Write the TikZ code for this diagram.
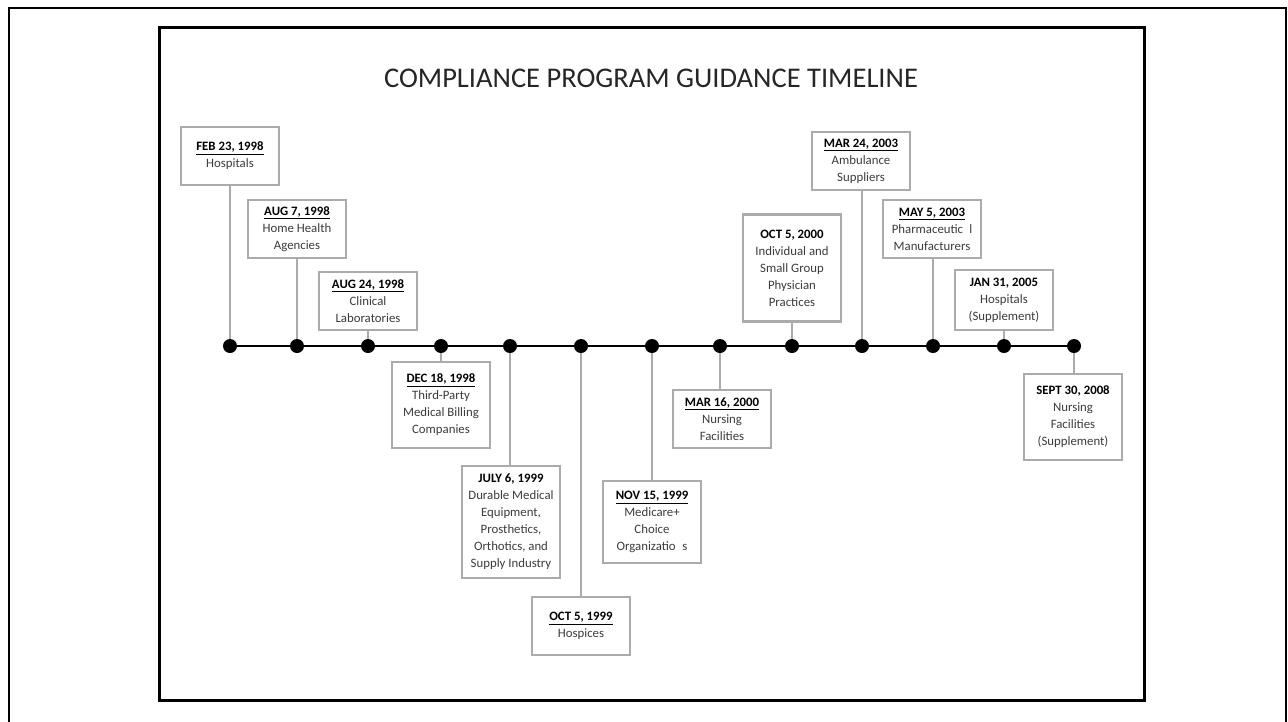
\documentclass[tikz,border=0pt]{standalone}
\usepackage{fontspec}
\setmainfont{Carlito}
\usepackage{tikz}
\usetikzlibrary{positioning,calc}
\definecolor{boxgray}{HTML}{ABABAB}
\definecolor{txtgray}{HTML}{3C3C3C}
\tikzstyle{datebox}=[draw=boxgray, line width=2.6pt, fill=white, align=center, minimum width=98pt, minimum height=58pt, inner sep=3pt, text=txtgray, font=\fontsize{12.8}{17}\selectfont]
\tikzstyle{tdot}=[circle, fill=black, inner sep=0pt, minimum size=14pt]
\tikzstyle{conn}=[boxgray, line width=2.6pt]
\newcommand{\udate}[1]{\textcolor{black}{\underline{\textbf{#1}}}}
\newcommand{\pdate}[1]{\textcolor{black}{\textbf{#1}}}

\begin{document}
\begin{tikzpicture}[x=1pt,y=-1pt]
\useasboundingbox (0,0) rectangle (1288,721);
\draw[line width=2.5pt] (9,8) rectangle (1286,760);
\draw[line width=3pt] (159,27) rectangle (1144,700);
\node[font=\fontsize{28.5}{32}\selectfont, text=black!85] (title) at (651,78) {COMPLIANCE PROGRAM GUIDANCE TIMELINE};
% dots on the time axis
\foreach \x [count=\i] in {230,297,368,441,510,581,652,720,792,862,933,1004,1074} {
	\node[tdot] (d\i) at (\x,346) {};
}
\draw[line width=2.6pt] (d1) -- (d13);
% boxes above and below
\node[datebox] (b1) at (230,156) {\udate{FEB 23, 1998}\\Hospitals};
\node[datebox] (b2) at (297,229) {\udate{AUG 7, 1998}\\Home Health\\Agencies};
\node[datebox] (b3) at (368,301) {\udate{AUG 24, 1998}\\Clinical\\Laboratories};
\node[datebox, minimum height=86pt] (b4) at (441,405) {\udate{DEC 18, 1998}\\Third-Party\\Medical Billing\\Companies};
\node[datebox, minimum height=112pt] (b5) at (511,522) {\pdate{JULY 6, 1999}\\Durable Medical\\Equipment,\\Prosthetics,\\Orthotics, and\\Supply Industry};
\node[datebox] (b6) at (581,626) {\udate{OCT 5, 1999}\\Hospices};
\node[datebox, minimum height=82pt] (b7) at (652,522) {\udate{NOV 15, 1999}\\Medicare+\\Choice\\Organizatio\phantom{n}s};
\node[datebox] (b8) at (722,419) {\udate{MAR 16, 2000}\\Nursing\\Facilities};
\node[datebox, minimum height=107pt] (b9) at (792,268) {\pdate{OCT 5, 2000}\\Individual and\\Small Group\\Physician\\Practices};
\node[datebox] (b10) at (861,161) {\udate{MAR 24, 2003}\\Ambulance\\Suppliers};
\node[datebox] (b11) at (932,229) {\udate{MAY 5, 2003}\\Pharmaceutic\phantom{a}l\\Manufacturers};
\node[datebox, minimum height=60pt] (b12) at (1004,300) {\pdate{JAN 31, 2005}\\Hospitals\\(Supplement)};
\node[datebox, minimum height=86pt] (b13) at (1073,417) {\pdate{SEPT 30, 2008}\\Nursing\\Facilities\\(Supplement)};
\foreach \i in {1,2,3,9,10,11,12} {
	\draw[conn] (b\i.south -| d\i) -- (d\i);
}
\foreach \i in {4,5,6,7,8,13} {
	\draw[conn] (b\i.north -| d\i) -- (d\i);
}
\end{tikzpicture}
\end{document}
